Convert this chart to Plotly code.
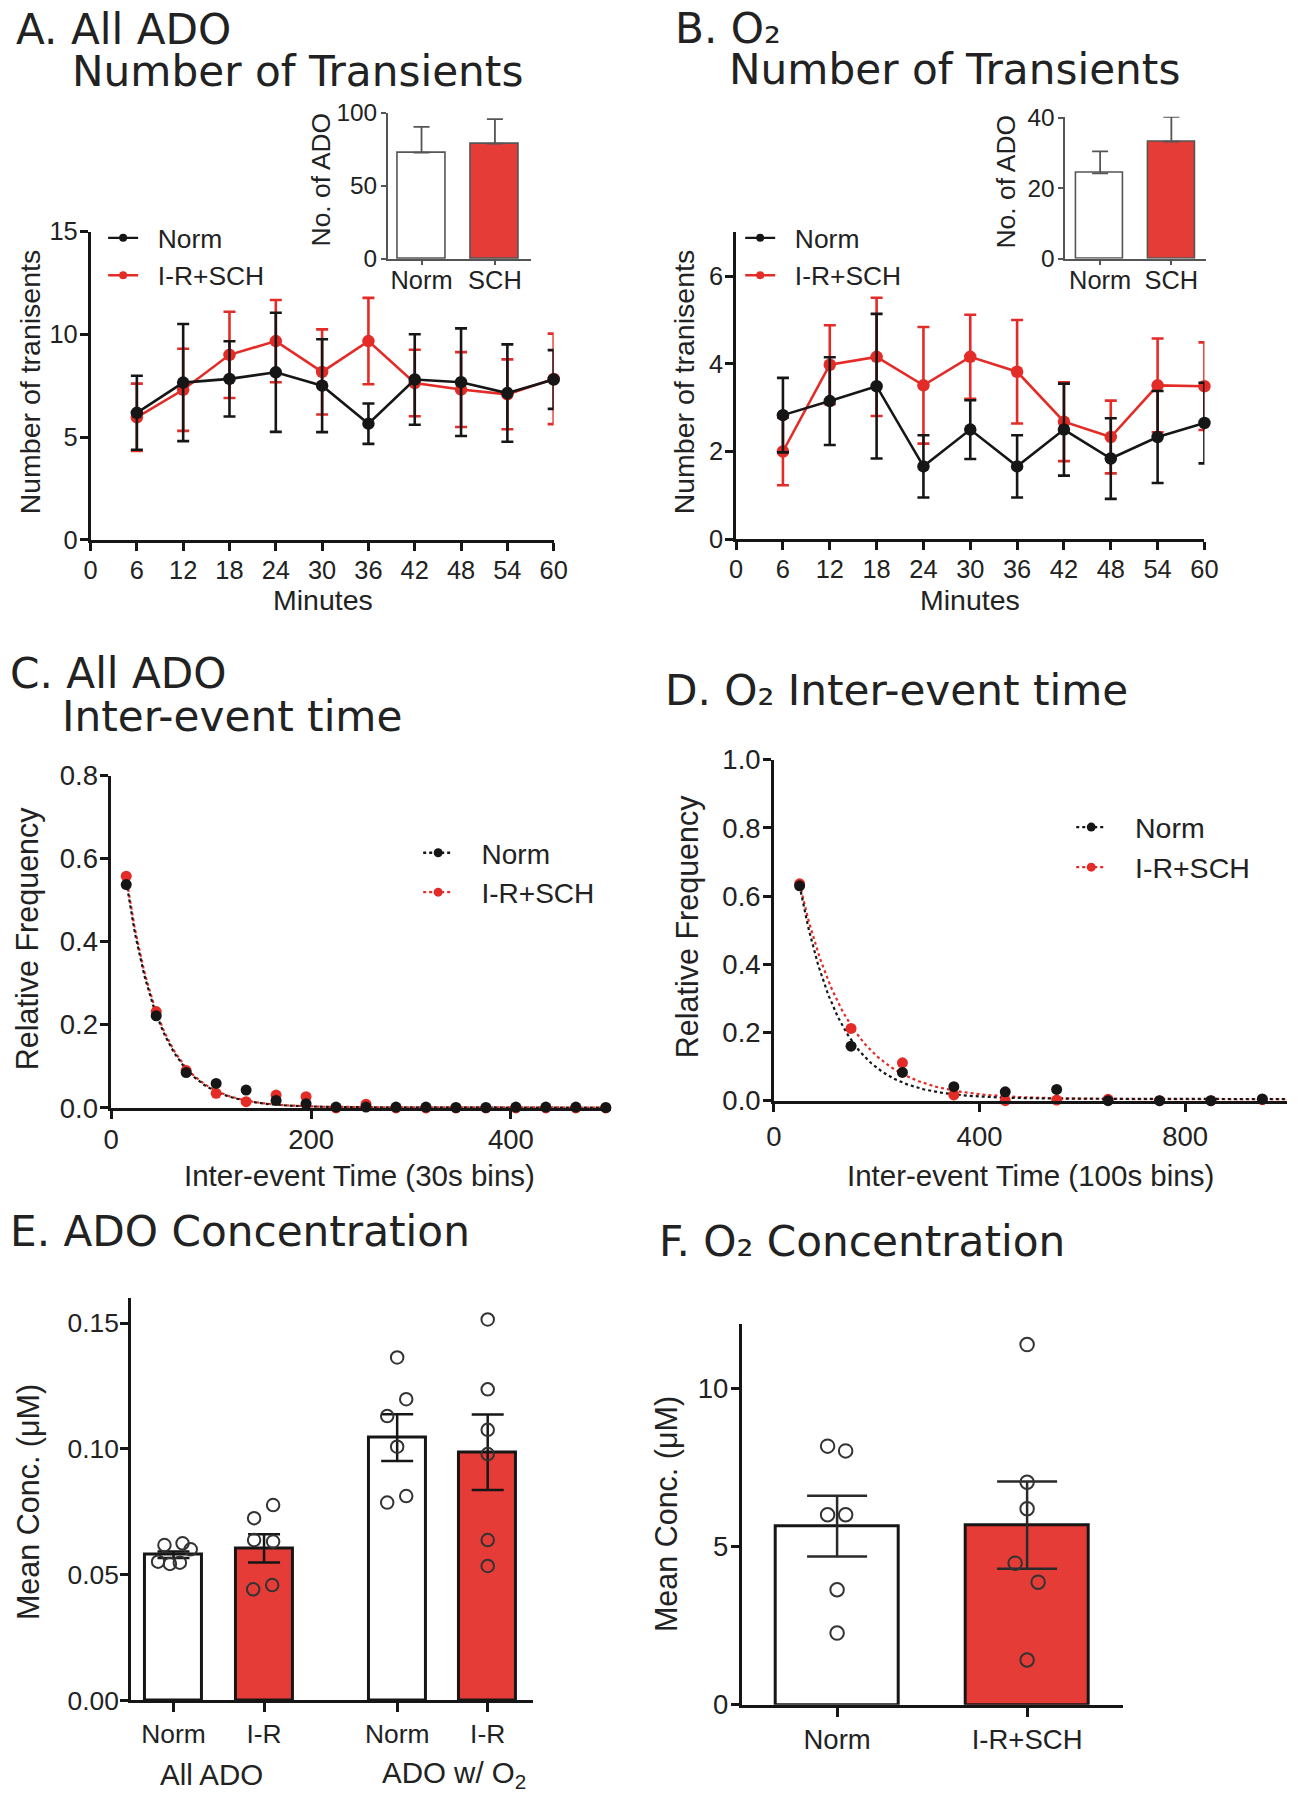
import numpy as np
import plotly.graph_objects as go

W, H = 1301, 1800
# the page is photographed with a small offset and shrink; place marks so they land
# where the reference has them
SC, OX, OY = 0.983, 8.0, 15.0


def px(x):
    return min(1.0, max(0.0, (x / SC - OX) / W))


def py(y):
    return min(1.0, max(0.0, 1 - (y / SC - OY) / H))


def fs(s):
    return round(s / SC, 1)


BLACK = "#161616"
RED = "#e32c27"
BAR_RED = "#e53c38"
GRAY = "#555555"
TXT = "#222222"
FONT = "Liberation Sans, Arial, sans-serif"
TFONT = "DejaVu Sans, sans-serif"

# ---------------- data ----------------
minutes = [6, 12, 18, 24, 30, 36, 42, 48, 54, 60]
minute_ticks = [0, 6, 12, 18, 24, 30, 36, 42, 48, 54, 60]

a_norm_mean = [6.18, 7.65, 7.83, 8.15, 7.50, 5.65, 7.80, 7.67, 7.14, 7.80]
a_norm_sem = [1.80, 2.85, 1.83, 2.90, 2.26, 0.98, 2.20, 2.62, 2.37, 1.43]
a_sch_mean = [5.96, 7.30, 9.00, 9.67, 8.17, 9.67, 7.63, 7.31, 7.08, 7.83]
a_sch_sem = [1.64, 2.00, 2.10, 2.00, 2.07, 2.10, 1.62, 1.82, 1.70, 2.20]

b_norm_mean = [2.83, 3.15, 3.49, 1.66, 2.50, 1.66, 2.50, 1.84, 2.33, 2.65]
b_norm_sem = [0.85, 1.00, 1.65, 0.71, 0.67, 0.71, 1.05, 0.92, 1.05, 0.92]
b_sch_mean = [2.00, 3.98, 4.16, 3.51, 4.16, 3.82, 2.68, 2.33, 3.51, 3.49]
b_sch_sem = [0.77, 0.90, 1.35, 1.33, 0.96, 1.18, 0.90, 0.83, 1.07, 1.00]

inset_labels = ["Norm", "SCH"]
a_inset_mean = [72.8, 79.0]
a_inset_sem = [17.6, 16.7]
b_inset_mean = [24.2, 33.2]
b_inset_sem = [6.2, 7.0]

c_bins = [15, 45, 75, 105, 135, 165, 195, 225, 255, 285, 315, 345, 375, 405, 435, 465, 495]
c_norm = [0.538, 0.222, 0.085, 0.059, 0.043, 0.018, 0.010, 0.002, 0.002, 0.002,
          0.002, 0.001, 0.001, 0.002, 0.002, 0.002, 0.001]
c_sch = [0.558, 0.232, 0.090, 0.035, 0.015, 0.031, 0.027, 0.000, 0.009, 0.000,
         0.000, 0.000, 0.000, 0.000, 0.000, 0.000, 0.000]
# one-phase decay fit parameters: [start x, start y, rate k, plateau]
c_fit_norm = [15, 0.545, 0.0295, 0.001]
c_fit_sch = [15, 0.556, 0.0292, 0.001]

d_bins = [50, 150, 250, 350, 450, 550, 650, 750, 850, 950]
d_norm = [0.630, 0.160, 0.083, 0.041, 0.026, 0.033, 0.000, 0.000, 0.000, 0.005]
d_sch = [0.636, 0.212, 0.111, 0.017, 0.000, 0.002, 0.004, 0.000, 0.000, 0.003]
d_fit_norm = [50, 0.630, 0.0128, 0.005]
d_fit_sch = [50, 0.636, 0.0107, 0.004]

e_labels = ["Norm", "I-R", "Norm", "I-R"]
e_groups = ["All ADO", "ADO w/ O<sub>2</sub>"]
e_mean = [0.0579, 0.0605, 0.1045, 0.0987]
e_sem = [0.0013, 0.0056, 0.0093, 0.0150]
e_points = [
    [0.0618, 0.0625, 0.0601, 0.0552, 0.0543, 0.0548],
    [0.0777, 0.0725, 0.0638, 0.0632, 0.0442, 0.0459],
    [0.1364, 0.1198, 0.1131, 0.1009, 0.0813, 0.0787],
    [0.1515, 0.1237, 0.1076, 0.0980, 0.0638, 0.0535],
]

f_labels = ["Norm", "I-R+SCH"]
f_mean = [5.65, 5.68]
f_sem = [0.96, 1.38]
f_points = [
    [8.18, 8.03, 6.01, 6.01, 3.64, 2.27],
    [11.39, 7.04, 6.20, 4.48, 3.88, 1.42],
]

# ---------------- layout helpers (positions / styles) ----------------
e_pos = [0, 1, 2.47, 3.47]
e_jitter = [[-0.10, 0.10, 0.19, -0.17, -0.04, 0.07],
            [0.10, -0.11, -0.11, 0.10, -0.12, 0.09],
            [0.0, 0.10, -0.11, 0.0, 0.10, -0.11],
            [0.0, 0.0, 0.0, 0.0, 0.0, 0.0]]
f_pos = [0, 1]
f_jitter = [[-0.05, 0.045, -0.05, 0.045, 0.0, 0.0],
            [0.0, 0.0, 0.0, -0.063, 0.058, 0.0]]

fig = go.Figure()


def series(x, y, sem, color, ax, ay):
    fig.add_trace(go.Scatter(
        x=x, y=y, mode="lines+markers", showlegend=False,
        line=dict(color=color, width=2.6),
        marker=dict(size=12.5, color=color),
        error_y=dict(type="data", array=sem, color=color, thickness=2.6, width=6),
        cliponaxis=False, xaxis=ax, yaxis=ay))


def legend_item(name, color, legend, ax, ay, dash="solid", msize=8, pad=2):
    fig.add_trace(go.Scatter(
        x=[None], y=[None], mode="lines+markers", name="\u00a0" * pad + name,
        line=dict(color=color, width=2.4, dash=dash),
        marker=dict(size=msize, color=color),
        legend=legend, xaxis=ax, yaxis=ay))


# Panel A
series(minutes, a_sch_mean, a_sch_sem, RED, "x", "y")
series(minutes, a_norm_mean, a_norm_sem, BLACK, "x", "y")
legend_item("Norm", BLACK, "legend", "x", "y")
legend_item("I-R+SCH", RED, "legend", "x", "y")

# Panel B
series(minutes, b_sch_mean, b_sch_sem, RED, "x3", "y3")
series(minutes, b_norm_mean, b_norm_sem, BLACK, "x3", "y3")
legend_item("Norm", BLACK, "legend2", "x3", "y3")
legend_item("I-R+SCH", RED, "legend2", "x3", "y3")


# Insets
def inset(mean, sem, ax, ay):
    fig.add_trace(go.Bar(
        x=[0, 1], y=mean, width=0.66, showlegend=False,
        marker=dict(color=["white", BAR_RED], line=dict(color=GRAY, width=1.6)),
        error_y=dict(type="data", symmetric=False, array=sem, arrayminus=[0, 0],
                     color=GRAY, thickness=1.8, width=8),
        xaxis=ax, yaxis=ay))


inset(a_inset_mean, a_inset_sem, "x2", "y2")
inset(b_inset_mean, b_inset_sem, "x4", "y4")


# Panels C & D
def decay_curve(p, xmax):
    x0, y0, k, plateau = p
    xs = np.linspace(x0, xmax, 300)
    return xs, plateau + (y0 - plateau) * np.exp(-k * (xs - x0))


def freq_panel(bins, norm, sch, fit_norm, fit_sch, xmax, ax, ay, legend, dash):
    for p, col in ((fit_sch, RED), (fit_norm, BLACK)):
        xs, ys = decay_curve(p, xmax)
        fig.add_trace(go.Scatter(x=xs, y=ys, mode="lines", showlegend=False,
                                 line=dict(color=col, width=2.2, dash=dash),
                                 xaxis=ax, yaxis=ay))
    for ys, col in ((sch, RED), (norm, BLACK)):
        fig.add_trace(go.Scatter(x=bins, y=ys, mode="markers", showlegend=False,
                                 marker=dict(size=11, color=col), cliponaxis=False,
                                 xaxis=ax, yaxis=ay))
    legend_item("Norm", BLACK, legend, ax, ay, dash=dash, msize=9, pad=3)
    legend_item("I-R+SCH", RED, legend, ax, ay, dash=dash, msize=9, pad=3)


freq_panel(c_bins, c_norm, c_sch, c_fit_norm, c_fit_sch, 500, "x5", "y5", "legend3", "3px,3px")
freq_panel(d_bins, d_norm, d_sch, d_fit_norm, d_fit_sch, 998, "x6", "y6", "legend4", "3px,3px")

# Panel E
e_colors = ["white", BAR_RED, "white", BAR_RED]
fig.add_trace(go.Bar(
    x=e_pos, y=e_mean, width=0.63, showlegend=False,
    marker=dict(color=e_colors, line=dict(color=BLACK, width=3)),
    error_y=dict(type="data", array=e_sem, color=BLACK, thickness=2.5, width=16),
    xaxis="x7", yaxis="y7"))
for i, pts in enumerate(e_points):
    fig.add_trace(go.Scatter(
        x=[e_pos[i] + j for j in e_jitter[i]], y=pts, mode="markers", showlegend=False,
        marker=dict(size=12.5, color="rgba(0,0,0,0)", line=dict(color="#333333", width=2)),
        cliponaxis=False, xaxis="x7", yaxis="y7"))

# Panel F
fig.add_trace(go.Bar(
    x=f_pos, y=f_mean, width=0.645, showlegend=False,
    marker=dict(color=["white", BAR_RED], line=dict(color=BLACK, width=3)),
    error_y=dict(type="data", array=f_sem, color="#2a2a2a", thickness=2.5, width=30),
    xaxis="x8", yaxis="y8"))
for i, pts in enumerate(f_points):
    fig.add_trace(go.Scatter(
        x=[f_pos[i] + j for j in f_jitter[i]], y=pts, mode="markers", showlegend=False,
        marker=dict(size=13.5, color="rgba(0,0,0,0)", line=dict(color="#333333", width=2)),
        cliponaxis=False, xaxis="x8", yaxis="y8"))


# ---------------- axes ----------------
def ax_style(domain, rng, tickvals, size=25, ticktext=None, lw=2.6, color=BLACK,
             ticklen=8, standoff=0, fmt=None, anchor=None):
    d = dict(domain=domain, range=rng, tickmode="array", tickvals=tickvals,
             showline=True, linecolor=color, linewidth=lw, ticks="outside",
             ticklen=ticklen, tickwidth=lw, tickcolor=color, showgrid=False,
             zeroline=False, fixedrange=True, ticklabelstandoff=standoff,
             tickfont=dict(family=FONT, size=fs(size), color=TXT), anchor=anchor)
    if ticktext is not None:
        d["ticktext"] = ticktext
    if fmt:
        d["tickformat"] = fmt
    return d


layout = dict(
    width=W, height=H, autosize=False,
    margin=dict(l=0, r=0, t=0, b=0, pad=0),
    paper_bgcolor="white", plot_bgcolor="rgba(0,0,0,0)",
    bargap=0,
)

# A main
layout["xaxis"] = ax_style([px(90.4), px(553.5)], [0, 60], minute_ticks, anchor="y", standoff=-2)
layout["yaxis"] = ax_style([py(539.7), py(231.3)], [0, 15], [0, 5, 10, 15], anchor="x", standoff=-3)
# A inset
layout["xaxis2"] = ax_style([px(387.6), px(530.7)], [-0.46, 1.49], [0, 1], size=25,
                            ticktext=inset_labels, lw=1.6, color=GRAY, ticklen=5, anchor="y2", standoff=-7)
layout["yaxis2"] = ax_style([py(258.5), py(112.7)], [0, 100], [0, 50, 100], size=24,
                            lw=1.6, color=GRAY, ticklen=5, anchor="x2", standoff=-1)
# B main
layout["xaxis3"] = ax_style([px(735.9), px(1204.2)], [0, 60], minute_ticks, anchor="y3", standoff=-2)
layout["yaxis3"] = ax_style([py(539.0), py(232.2)], [0, 7], [0, 2, 4, 6], anchor="x3", standoff=-3)
# B inset
layout["xaxis4"] = ax_style([px(1065), px(1206)], [-0.49, 1.49], [0, 1], size=25,
                            ticktext=inset_labels, lw=1.6, color=GRAY, ticklen=5, anchor="y4", standoff=-7)
layout["yaxis4"] = ax_style([py(258.5), py(116.6)], [0, 40.2], [0, 20, 40], size=24,
                            lw=1.6, color=GRAY, ticklen=5, anchor="x4", standoff=-1)
# C
layout["xaxis5"] = ax_style([px(111.1), px(610.6)], [0, 500], [0, 200, 400], size=27, anchor="y5", standoff=-3)
layout["yaxis5"] = ax_style([py(1107.9), py(775.7)], [0, 0.8], [0, 0.2, 0.4, 0.6, 0.8], size=27,
                            fmt=".1f", anchor="x5", standoff=-3)
# D (right edge limited by the page width)
layout["xaxis6"] = ax_style([px(773.7), 1.0], [0, 998], [0, 400, 800], size=27, anchor="y6", standoff=1)
layout["yaxis6"] = ax_style([py(1100.7), py(759.6)], [0, 1.0], [0, 0.2, 0.4, 0.6, 0.8, 1.0], size=27,
                            fmt=".1f", anchor="x6", standoff=-3)
# E
layout["xaxis7"] = ax_style([px(130.8), px(532.8)], [-0.47, 3.97], e_pos, size=26,
                            ticktext=e_labels, anchor="y7", ticklen=9, standoff=-1)
layout["yaxis7"] = ax_style([py(1700.6), py(1297.6)], [0, 0.1602], [0, 0.05, 0.10, 0.15], size=26,
                            fmt=".2f", anchor="x7", standoff=-4)
# F
layout["xaxis8"] = ax_style([px(741.5), px(1123.2)], [-0.502, 1.507], f_pos, size=27,
                            ticktext=f_labels, anchor="y8", ticklen=9, standoff=-1)
layout["yaxis8"] = ax_style([py(1705.0), py(1324.4)], [0, 12.03], [0, 5, 10], size=27,
                            anchor="x8", standoff=-3)


def leg(x, y, size):
    return dict(x=px(x), y=py(y), xanchor="left", yanchor="top",
                bgcolor="rgba(0,0,0,0)", borderwidth=0, tracegroupgap=0,
                font=dict(family=FONT, size=fs(size), color=TXT), itemwidth=30)


layout["legend"] = leg(103, 214, 26)
layout["legend2"] = leg(740, 214, 26)
layout["legend3"] = leg(418, 828, 27.5)
layout["legend4"] = leg(1071, 802, 28)

fig.update_layout(**layout)

# ---------------- text annotations ----------------
anns = []


def txt(x, y, s, size, family=FONT, angle=0, xanchor="center", color=TXT):
    anns.append(dict(x=px(x), y=py(y), xref="paper", yref="paper", text=s, showarrow=False,
                     textangle=angle, xanchor=xanchor, yanchor="middle",
                     font=dict(family=family, size=fs(size), color=color)))


# panel titles
TS = 41.5
txt(14, 29, "A. All ADO", TS, TFONT, xanchor="left")
txt(70, 71, "Number of Transients", TS, TFONT, xanchor="left")
txt(673, 28, "B. O\u2082", TS, TFONT, xanchor="left")
txt(727, 69, "Number of Transients", TS, TFONT, xanchor="left")
txt(8, 673, "C. All ADO", TS, TFONT, xanchor="left")
txt(60, 716, "Inter-event time", TS, TFONT, xanchor="left")
txt(663, 690, "D. O\u2082 Inter-event time", TS, TFONT, xanchor="left")
txt(8, 1232, "E. ADO Concentration", TS, TFONT, xanchor="left")
txt(657, 1242, "F. O\u2082 Concentration", TS, TFONT, xanchor="left")

# axis titles
txt(30, 382, "Number of tranisents", 28, angle=-90)
txt(323, 600, "Minutes", 28)
txt(684, 382, "Number of tranisents", 28, angle=-90)
txt(970, 600, "Minutes", 28)
txt(321, 180, "No. of ADO", 26, angle=-90)
txt(1006, 182, "No. of ADO", 26, angle=-90)
txt(27, 938, "Relative Frequency", 30, angle=-90)
txt(359, 1176, "Inter-event Time (30s bins)", 29)
txt(687, 926, "Relative Frequency", 30, angle=-90)
txt(1030, 1176, "Inter-event Time (100s bins)", 29)
txt(29, 1502, "Mean Conc. (\u03bcM)", 30, angle=-90)
txt(211, 1775, e_groups[0], 29)
txt(454, 1775, e_groups[1], 29)
txt(667, 1514, "Mean Conc. (\u03bcM)", 30, angle=-90)

fig.update_layout(annotations=anns)

fig.write_html(
    "out.html",
    config={"displayModeBar": False},
    post_script=[
        "document.body.style.margin='0px';"
        "document.body.style.padding='0px';"
        "document.documentElement.style.margin='0px';"
        "document.documentElement.style.overflow='hidden';"
        "document.body.style.overflow='hidden';"
    ],
)
